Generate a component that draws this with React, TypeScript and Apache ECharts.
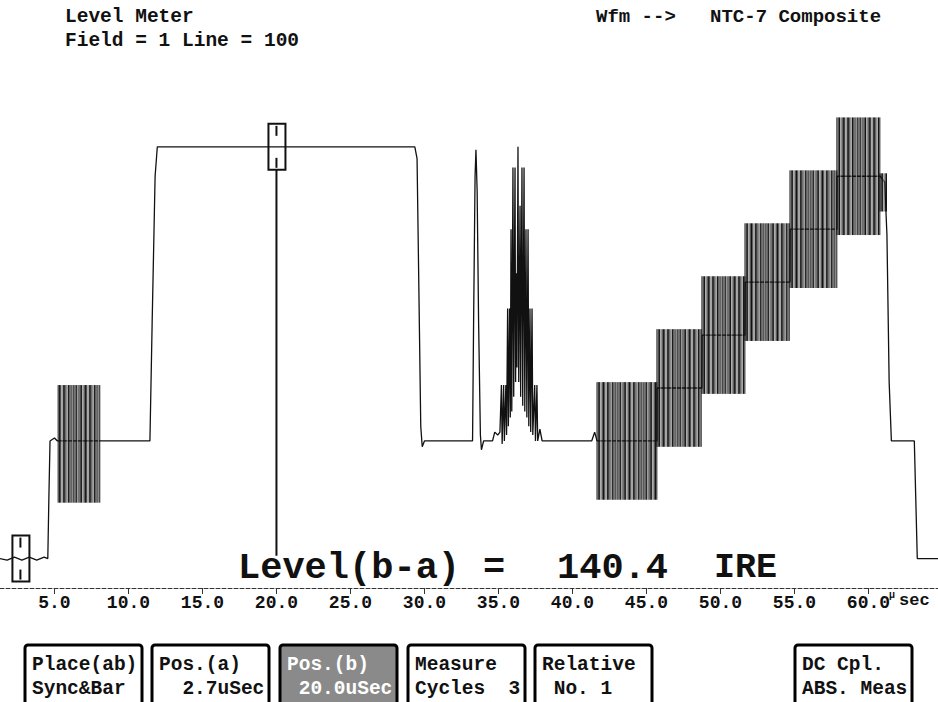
import React, { useEffect, useRef } from "react";
import * as echarts from "echarts";

// ---------- data (time in µs, level in IRE) ----------
const syncTrace: number[][] = [
  [1.3, -40], [1.8, -40.5], [2.3, -39.5], [2.8, -40.5], [3.3, -39.5], [3.8, -40.5],
  [4.3, -39.5], [4.55, -40], [4.62, -20], [4.7, 0], [5.0, 1], [5.2, 0], [8.1, 0], [11.45, 0],
];
const whiteBarTrace: number[][] = [
  [11.6, 40], [11.8, 90], [11.95, 100], [29.35, 100], [29.5, 96], [29.6, 60],
  [29.75, 5], [29.85, -2], [30.0, 0], [33.25, 0],
];
const pulse2TTrace: number[][] = [
  [33.32, 40], [33.42, 90], [33.48, 99], [33.56, 85], [33.66, 40], [33.78, 2],
  [33.85, -3], [34.0, 0], [34.6, 0], [34.75, 3], [34.95, 2],
];
const pulse12T5Trace: number[][] = [
  [35.1, 3], [35.2, 19], [35.25, -1], [35.35, 19], [35.4, 0], [35.5, 19], [35.55, 2],
  [35.62, 45], [35.67, 5], [35.75, 45], [35.8, 8], [35.85, 72], [35.9, 10], [35.98, 93],
  [36.03, 15], [36.12, 93], [36.16, 20], [36.2, 57], [36.25, 25], [36.32, 100], [36.37, 20],
  [36.46, 80], [36.5, 15], [36.59, 93], [36.64, 12], [36.73, 93], [36.78, 10], [36.86, 72],
  [36.92, 8], [37.0, 72], [37.05, 5], [37.13, 45], [37.18, 3], [37.27, 45], [37.32, 2],
  [37.45, 19], [37.5, 0], [37.6, 19], [37.65, 0], [37.8, 4], [37.95, 0],
];
const staircaseTrace: number[][] = [
  [41.3, 0], [41.5, 3], [41.66, 0], [45.71, 0], [45.72, 18], [48.75, 18], [48.76, 36],
  [51.66, 36], [51.67, 54], [54.7, 54], [54.71, 72], [57.87, 72], [57.88, 90], [60.8, 90],
  [61.1, 88], [61.25, 70], [61.4, 20], [61.55, 0], [63.1, 0], [63.2, -20], [63.3, -40], [64.7, -40],
];

// chroma bursts (colour burst + modulated staircase): start, end, low, high
const burstStart = [5.25, 41.66, 45.71, 48.75, 51.66, 54.7, 57.87, 60.78];
const burstEnd = [8.08, 45.71, 48.75, 51.66, 54.7, 57.87, 60.78, 61.25];
const burstLow = [-21, -20, -2, 16, 34, 52, 70, 78];
const burstHigh = [19, 20, 38, 56, 74, 92, 110, 91];

// cursors a and b
const cursorTime = [2.7, 20.0];
const cursorLevel = [-40, 100];

const xTicks = [5, 10, 15, 20, 25, 30, 35, 40, 45, 50, 55, 60];

const buttonLine1 = ["Place(ab)", "Pos.(a)", "Pos.(b)", "Measure", "Relative", "DC Cpl."];
const buttonLine2 = ["Sync&Bar", "  2.7uSec", " 20.0uSec", "Cycles  3", " No. 1", "ABS. Meas"];

// ---------- layout ----------
const FONT = '"Liberation Mono", "Courier New", monospace';
const buttonX = [25, 152, 280, 408, 535, 795];
const activeButton = 2;

function buildOption() {
  const trace = [...syncTrace, ...whiteBarTrace, ...pulse2TTrace, ...pulse12T5Trace, ...staircaseTrace];
  const bursts = burstStart.map((s, i) => [s, burstEnd[i], burstLow[i], burstHigh[i]]);
  const cursors = cursorTime.map((t, i) => [t, cursorLevel[i], i]);

  const graphic: any[] = [];
  const txt = (x: number, y: number, text: string, size: number, extra: any = {}) => ({
    type: "text",
    x,
    y,
    style: {
      text,
      fill: "#111",
      fontFamily: FONT,
      fontWeight: "bold",
      fontSize: size,
      textVerticalAlign: "middle",
      ...extra,
    },
  });
  graphic.push(txt(65, 17, "Level Meter", 19.5));
  graphic.push(txt(65, 41, "Field = 1 Line = 100", 19.5));
  graphic.push(txt(596, 17, "Wfm -->   NTC-7 Composite", 19));
  graphic.push(txt(238, 568, "Level(b-a)", 37));
  graphic.push(txt(494, 568, "=", 37, { textAlign: "center" }));
  graphic.push(txt(557, 568, "140.4", 37));
  graphic.push(txt(714, 568, "IRE", 35));
  graphic.push(txt(889, 595, "\u00b5", 10));
  graphic.push(txt(899, 600, "sec", 17));

  buttonX.forEach((bx, i) => {
    const active = i === activeButton;
    graphic.push({
      type: "rect",
      shape: { x: bx, y: 645, width: 117, height: 62, r: 3 },
      style: { fill: active ? "#8a8a8a" : "#fff", stroke: "#000", lineWidth: 3 },
    });
    const fill = active ? "#fff" : "#111";
    graphic.push(txt(bx + 7, 665, buttonLine1[i], 19.5, { fill }));
    graphic.push(txt(bx + 7, 689, buttonLine2[i], 19.5, { fill }));
  });

  return {
    animation: false,
    backgroundColor: "#fff",
    grid: { left: 0, right: 0, top: 88, bottom: 114 },
    xAxis: {
      type: "value",
      min: 1.32,
      max: 64.7,
      splitLine: { show: false },
      axisLine: { show: true, onZero: false, lineStyle: { color: "#333", width: 1, type: [4, 2] } },
      axisTick: { show: true, customValues: xTicks, length: 6, lineStyle: { color: "#333" } },
      axisLabel: {
        customValues: xTicks,
        formatter: (v: number) => v.toFixed(1),
        color: "#111",
        fontFamily: FONT,
        fontWeight: "bold",
        fontSize: 18,
        margin: 6,
      },
    },
    yAxis: { type: "value", min: -50, max: 120, show: false },
    graphic,
    series: [
      {
        type: "line",
        data: trace,
        symbol: "none",
        lineStyle: { color: "#111", width: 1.3 },
        z: 2,
      },
      {
        type: "custom",
        data: bursts,
        encode: { x: [0, 1], y: [2, 3] },
        z: 3,
        renderItem: (_p: any, api: any) => {
          const a = api.coord([api.value(0), api.value(3)]);
          const b = api.coord([api.value(1), api.value(2)]);
          const children: any[] = [];
          let k = 0;
          for (let x = a[0]; x <= b[0]; x += 1.3, k++) {
            children.push({
              type: "line",
              shape: { x1: x, y1: a[1], x2: x, y2: b[1] },
              style: { stroke: k % 4 === 3 ? "#888" : "#111", lineWidth: 1 },
            });
          }
          return { type: "group", children };
        },
      },
      {
        type: "custom",
        data: cursors,
        encode: { x: 0, y: 1 },
        z: 4,
        renderItem: (_p: any, api: any) => {
          const p = api.coord([api.value(0), api.value(1)]);
          const idx = api.value(2);
          const children: any[] = [
            {
              type: "rect",
              shape: { x: p[0] - 8, y: p[1] - 23, width: 17, height: 46 },
              style: { fill: "none", stroke: "#111", lineWidth: 2 },
            },
            { type: "line", shape: { x1: p[0], y1: p[1] - 21, x2: p[0], y2: p[1] - 11 }, style: { stroke: "#111", lineWidth: 2 } },
            { type: "line", shape: { x1: p[0], y1: p[1] + 11, x2: p[0], y2: p[1] + 21 }, style: { stroke: "#111", lineWidth: 2 } },
          ];
          if (idx === 1) {
            const end = api.coord([api.value(0), cursorLevel[0] + 1]);
            children.push({
              type: "line",
              shape: { x1: p[0], y1: p[1] + 23, x2: p[0], y2: end[1] },
              style: { stroke: "#111", lineWidth: 2 },
            });
          }
          return { type: "group", children };
        },
      },
    ],
  };
}

export default function App() {
  const ref = useRef<HTMLDivElement>(null);
  useEffect(() => {
    const chart = echarts.init(ref.current as HTMLDivElement, null, { renderer: "svg" });
    chart.setOption(buildOption() as any);
    return () => chart.dispose();
  }, []);
  return (
    <div
      ref={ref}
      style={{ position: "fixed", left: 0, top: 0, width: 938, height: 702, background: "#fff" }}
    />
  );
}
